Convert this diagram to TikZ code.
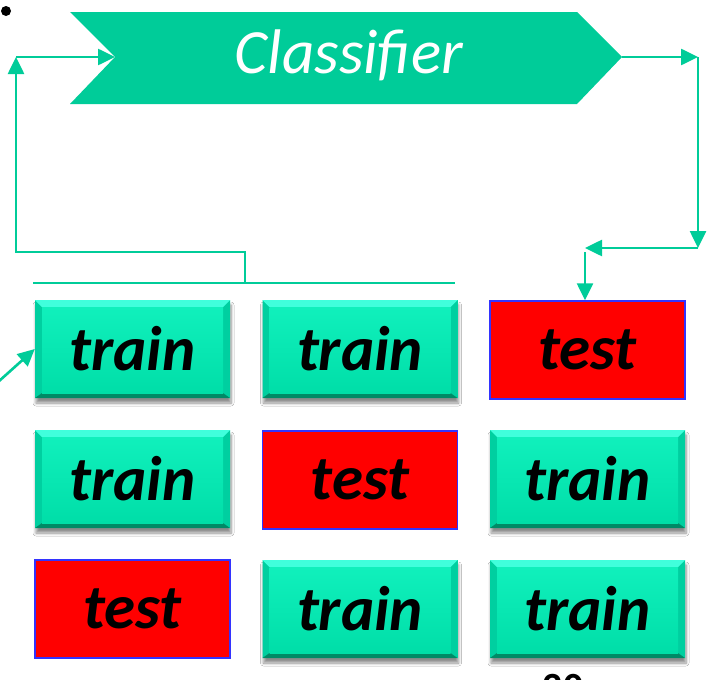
\documentclass[tikz,border=0pt]{standalone}
\usepackage{fontspec}
\setmainfont{Carlito}
\usetikzlibrary{arrows.meta,shadows.blur,calc}
\definecolor{teal1}{HTML}{00CC99}
\definecolor{facetop}{HTML}{10F0BC}
\definecolor{facebot}{HTML}{00DEA8}
\definecolor{bevtop}{HTML}{40FFDC}
\definecolor{bevside}{HTML}{00CFA0}
\definecolor{bevbot}{HTML}{008A66}
\definecolor{testred}{HTML}{FF0000}
\definecolor{testblue}{HTML}{3333FF}
\tikzset{
  arr/.style={draw=teal1, line width=2.6pt, -{Triangle[length=17pt,width=16pt]}},
  conn/.style={draw=teal1, line width=2.6pt},
  boxtxt/.style={font=\fontsize{63}{63}\selectfont\bfseries\itshape, text=black},
  trainbox/.style={boxtxt, minimum width=195pt, minimum height=98pt, inner sep=0pt,
    blur shadow={shadow xshift=1pt, shadow yshift=-5pt, shadow blur steps=6, shadow blur radius=3pt, shadow opacity=45},
    fill=facebot,
    path picture={
      \coordinate (pnw) at (path picture bounding box.north west);
      \coordinate (pne) at (path picture bounding box.north east);
      \coordinate (psw) at (path picture bounding box.south west);
      \coordinate (pse) at (path picture bounding box.south east);
      \fill[bevside] (pnw) -- (psw) -- ([shift={(7pt,5pt)}]psw) -- ([shift={(7pt,-7pt)}]pnw) -- cycle;
      \fill[bevside] (pne) -- (pse) -- ([shift={(-7pt,5pt)}]pse) -- ([shift={(-7pt,-7pt)}]pne) -- cycle;
      \fill[bevtop] (pnw) -- (pne) -- ([shift={(-7pt,-7pt)}]pne) -- ([shift={(7pt,-7pt)}]pnw) -- cycle;
      \fill[bevbot] (psw) -- (pse) -- ([shift={(-7pt,5pt)}]pse) -- ([shift={(7pt,5pt)}]psw) -- cycle;
      \shade[top color=facetop, bottom color=facebot] ([shift={(7pt,-7pt)}]pnw) rectangle ([shift={(-7pt,5pt)}]pse);
    }},
  testbox/.style={boxtxt, minimum width=195pt, minimum height=98pt, inner sep=0pt,
    fill=testred, draw=testblue, line width=1.5pt}
}
\begin{document}
\begin{tikzpicture}[x=1pt,y=-1pt]
\useasboundingbox[fill=white] (0,0) rectangle (710,680);
% bullet
\fill[black] (6,11) circle[radius=5pt];
% classifier shape
\fill[teal1] (70,12) -- (577,12) -- (622,57) -- (577,104) -- (70,104) -- (115,57) -- cycle;
\node[font=\fontsize{63}{63}\selectfont\itshape, text=white] (cls) at (349,55) {Classifier};
\coordinate (clsin) at (115,57);
\coordinate (clsout) at (622,57);
% boxes
\node[trainbox] (t11) at (132.5,349) {train};
\node[trainbox] (t12) at (360,349) {train};
\node[testbox]  (t13) at (587.5,350) {test};
\node[trainbox] (t21) at (132.5,479) {train};
\node[testbox]  (t22) at (360,480) {test};
\node[trainbox] (t23) at (587.5,479) {train};
\node[testbox]  (t31) at (132.5,609) {test};
\node[trainbox] (t32) at (360,609) {train};
\node[trainbox] (t33) at (587.5,609) {train};
% bracket line above training boxes
\coordinate (bl) at (33,283);
\coordinate (br) at (455,283);
\coordinate (bm) at (245,283);
\draw[conn] (bl) -- (br);
% left feedback path
\coordinate (lc) at (16,252);
\coordinate (lt) at (16,57);
\draw[arr] (bm) |- (lc) -- (lt);
\draw[arr] (lt) -- (clsin);
% right path
\coordinate (rt) at (698,57);
\coordinate (rb) at (698,248);
\coordinate (tl) at (585,248);
\coordinate (tl2) at (585,252);
\draw[arr] (clsout) -- (rt);
\draw[arr] (rt) -- (rb);
\draw[arr] (rb) -- (tl);
\draw[arr] (tl2) -- (tl2|-t13.north);
% small incoming arrow
\coordinate (src) at (-2,382);
\draw[arr] (src) -- (t11.west);
% page number, cut off as in the reference
\node[font=\fontsize{40}{40}\selectfont\bfseries, anchor=north, inner sep=0pt] (pg) at (563,674) {20};
\end{tikzpicture}
\end{document}
